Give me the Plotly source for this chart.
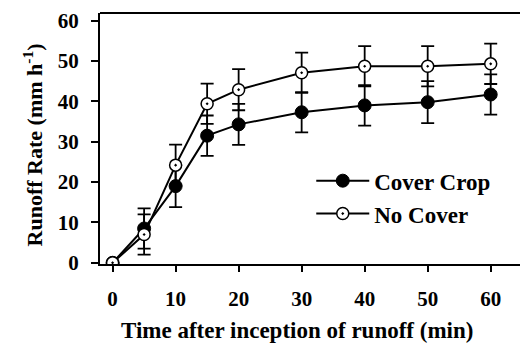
import plotly.graph_objects as go

time_min = [0, 5, 10, 15, 20, 30, 40, 50, 60]
cover_crop = [0, 8.5, 19.0, 31.5, 34.3, 37.3, 39.0, 39.8, 41.7]
cover_crop_err = [0, 5.0, 5.2, 5.0, 5.1, 5.0, 5.0, 5.2, 5.0]
no_cover = [0, 7.0, 24.2, 39.4, 42.9, 47.1, 48.7, 48.7, 49.3]
no_cover_err = [0, 5.0, 5.1, 5.0, 5.1, 5.0, 5.0, 5.0, 5.0]

x_ticks = [0, 10, 20, 30, 40, 50, 60]
y_ticks = [0, 10, 20, 30, 40, 50, 60]

FONT = "Liberation Serif"

fig = go.Figure()
fig.add_trace(go.Scatter(
    x=time_min, y=cover_crop, name="Cover Crop", mode="lines+markers",
    line=dict(color="black", width=2),
    marker=dict(symbol="circle", size=13, color="black", line=dict(color="black", width=1)),
    error_y=dict(type="data", array=cover_crop_err, color="black", thickness=1.8, width=6.5),
))
fig.add_trace(go.Scatter(
    x=time_min, y=no_cover, name="No Cover", mode="lines+markers",
    line=dict(color="black", width=2),
    marker=dict(symbol="circle-dot", size=12, color="white", line=dict(color="black", width=1.5)),
    error_y=dict(type="data", array=no_cover_err, color="black", thickness=1.8, width=6.5),
))

axis_font = dict(family=FONT, size=21, color="black", weight="bold")
fig.update_layout(
    width=520, height=345,
    margin=dict(l=100, r=0, t=13, b=81),
    paper_bgcolor="white", plot_bgcolor="white",
    showlegend=True,
    legend=dict(
        x=0.503, y=0.266, xanchor="left", yanchor="middle",
        font=dict(family=FONT, size=23, color="black", weight="bold"),
        bgcolor="rgba(0,0,0,0)", tracegroupgap=0, itemwidth=53,
    ),
    xaxis=dict(
        range=[-2.0, 64.65], tickvals=x_ticks, ticks="outside", ticklen=6,
        tickwidth=1.5, tickcolor="black", showline=True, linecolor="black",
        linewidth=2, showgrid=False, zeroline=False, tickfont=axis_font,
        ticklabelstandoff=9,
    ),
    yaxis=dict(
        range=[-0.3, 61.9], tickvals=y_ticks, ticks="outside", ticklen=7,
        tickwidth=1.5, tickcolor="black", showline=True, linecolor="black",
        linewidth=2, showgrid=False, zeroline=False, tickfont=axis_font,
        ticklabelstandoff=8,
    ),
    shapes=[dict(type="line", xref="paper", yref="paper", x0=0, x1=1, y0=1, y1=1,
                 line=dict(color="black", width=2))],
    annotations=[
        dict(text="Time after inception of runoff (min)", xref="paper", yref="paper",
             x=(297 - 100) / 420, y=-(331 - 264.5) / 251.2, xanchor="center", yanchor="middle",
             showarrow=False, font=dict(family=FONT, size=23, color="black", weight="bold")),
        dict(text="Runoff Rate (mm h<sup>-1</sup>)", xref="paper", yref="paper",
             x=-0.16, y=(264.5 - 145) / 251.2, xanchor="center", yanchor="middle",
             textangle=-90, showarrow=False,
             font=dict(family=FONT, size=22, color="black", weight="bold")),
    ],
)

fig.write_html("out.html")
